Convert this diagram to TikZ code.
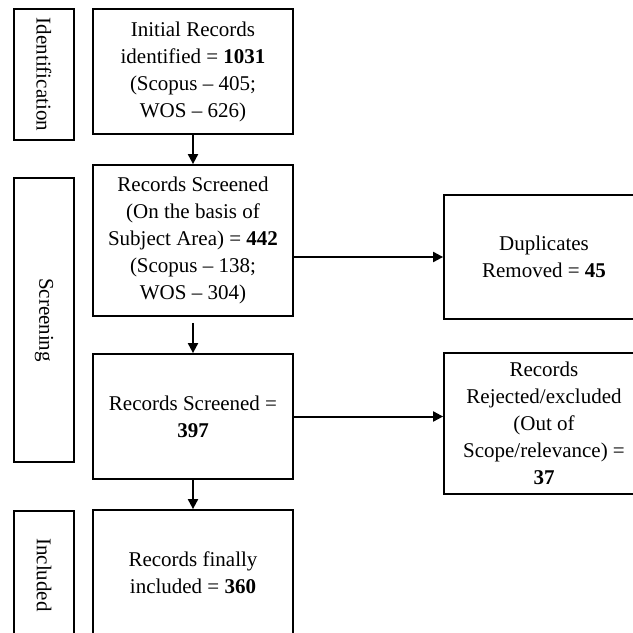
\documentclass[tikz,border=0pt]{standalone}
\usepackage{fontspec}
\setmainfont{Liberation Serif}
\usetikzlibrary{arrows.meta,positioning}

\begin{document}
\begin{tikzpicture}[x=0.5pt,y=-0.5pt,
    box/.style={draw,line width=0.9pt,minimum width=100pt,align=center,inner sep=0pt,
      font=\fontsize{10.5}{13.5}\selectfont},
    phase/.style={draw,line width=0.9pt,rotate=-90,minimum height=30pt,inner sep=0pt,
      font=\fontsize{10.5}{13.5}\selectfont},
    flow/.style={line width=1pt,-{Triangle[length=5pt,width=5pt]}}]
  \clip (0,0) rectangle (633,633);

  % phases on the left
  \node[phase,minimum width=65.5pt] (ident) at (44,74.5) {Identification};
  \node[phase,minimum width=142pt] (screen) at (44,320) {Screening};
  \node[phase,minimum width=64pt] (incl) at (44,575) {Included};

  % main column
  \node[box,minimum height=62.5pt] (init) at (193,71.5)
    {Initial Records\\identified = \textbf{1031}\\(Scopus -- 405;\\WOS -- 626)};
  \node[box,minimum height=75.5pt] (subj) at (193,240.5)
    {Records Screened\\(On the basis of\\Subject Area) = \textbf{442}\\(Scopus -- 138;\\WOS -- 304)};
  \node[box,minimum height=62.5pt] (scr) at (193,416.5)
    {Records Screened =\\\textbf{397}};
  \node[box,minimum height=63pt] (final) at (193,573)
    {Records finally\\included = \textbf{360}};

  % removed records
  \node[box,minimum height=62pt] (dup) at (544,257)
    {Duplicates\\Removed = \textbf{45}};
  \node[box,minimum height=70.5pt] (rej) at (544,423.5)
    {Records\\Rejected/excluded\\(Out of\\Scope/relevance) =\\\textbf{37}};

  \draw[flow] (init) -- (subj);
  \draw[flow,shorten <=3pt] (subj) -- (scr);
  \draw[flow] (scr) -- (final);
  \draw[flow] (subj.east |- dup.west) -- (dup.west);
  \draw[flow] (scr.east) -- (scr.east -| rej.west);
\end{tikzpicture}
\end{document}
